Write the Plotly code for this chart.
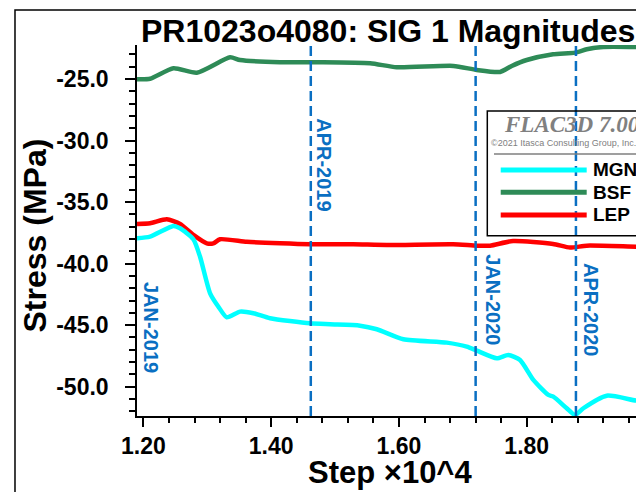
import plotly.graph_objects as go

# ---------------- data ----------------
bsf_step = [1.190, 1.2105, 1.247, 1.2836, 1.3357, 1.3513, 1.4139, 1.4609, 1.4765, 1.5548,
            1.5966, 1.6851, 1.7218, 1.7582, 1.7765, 1.8000, 1.8412, 1.8756, 1.8939, 1.9199, 1.9710, 1.99]
bsf_stress = [-25.02, -24.98, -24.13, -24.49, -23.24, -23.46, -23.64, -23.64, -23.64, -23.72,
              -24.05, -23.94, -24.27, -24.43, -23.94, -23.46, -22.99, -22.86, -22.59, -22.40, -22.40, -22.40]

lep_step = [1.190, 1.2105, 1.2366, 1.2574, 1.2782, 1.2992, 1.3095, 1.3200, 1.3618, 1.4139,
            1.4609, 1.5282, 1.5809, 1.6847, 1.7218, 1.7426, 1.7786, 1.8412, 1.8678, 1.8939, 1.9710, 1.99]
lep_stress = [-36.78, -36.72, -36.40, -36.78, -37.67, -38.35, -38.35, -38.02, -38.22, -38.35,
              -38.43, -38.43, -38.49, -38.43, -38.54, -38.54, -38.16, -38.40, -38.70, -38.54, -38.62, -38.62]

mgn_step = [1.190, 1.2105, 1.2469, 1.2574, 1.2782, 1.2887, 1.3044, 1.3174, 1.3305, 1.3513,
            1.3721, 1.3983, 1.4609, 1.4922, 1.5391, 1.5653, 1.6069, 1.6748, 1.7061, 1.7218,
            1.7531, 1.7712, 1.7895, 1.8103, 1.8338, 1.8416, 1.8626, 1.8756, 1.8886, 1.9252, 1.9710, 1.99]
mgn_stress = [-37.94, -37.81, -36.94, -37.13, -38.02, -39.44, -42.41, -43.50, -44.36, -43.90,
              -44.03, -44.44, -44.85, -44.93, -45.04, -45.33, -46.15, -46.42, -46.75, -47.07,
              -47.69, -47.42, -47.83, -49.45, -50.67, -50.81, -51.75, -52.30, -51.75, -50.73, -51.13, -51.2]

series_names = ["MGN", "BSF", "LEP"]
series_colors = ["#00FFFF", "#2E8B57", "#FF0000"]

event_labels = ["JAN-2019", "APR-2019", "JAN-2020", "APR-2020"]
event_steps = [1.190, 1.462, 1.720, 1.877]

x_tick_vals = [1.2, 1.4, 1.6, 1.8]
x_tick_text = ["1.20", "1.40", "1.60", "1.80"]
y_tick_vals = [-25, -30, -35, -40, -45, -50]
y_tick_text = ["-25.0", "-30.0", "-35.0", "-40.0", "-45.0", "-50.0"]

title_text = "PR1023o4080: SIG 1 Magnitudes"
x_title = "Step ×10^4"
y_title = "Stress (MPa)"

# ---------------- style / layout ----------------
FONT = "Arial, Liberation Sans, sans-serif"
EVENT_COLOR = "#0A6FC2"
event_label_y = [-45.15, -31.99, -42.95, -43.77]
event_label_shift = [14, 13, 17, 15]
event_draw_line = [False, True, True, True]

fig = go.Figure()
data_map = {"MGN": (mgn_step, mgn_stress), "BSF": (bsf_step, bsf_stress), "LEP": (lep_step, lep_stress)}
for name, color in zip(["BSF", "LEP", "MGN"], [series_colors[1], series_colors[2], series_colors[0]]):
    xs, ys = data_map[name]
    fig.add_trace(go.Scatter(x=xs, y=ys, mode="lines", name=name,
                             line=dict(color=color, width=4.5, shape="spline", smoothing=0.6),
                             showlegend=False))

shapes = []
annotations = []

# vertical event lines and labels
for lab, xv, yv, sh, draw in zip(event_labels, event_steps, event_label_y, event_label_shift, event_draw_line):
    if draw:
        shapes.append(dict(type="line", xref="x", yref="paper", x0=xv, x1=xv, y0=0, y1=1,
                           line=dict(color=EVENT_COLOR, width=2.5, dash="10px,5px"), layer="above"))
    annotations.append(dict(x=xv, y=yv, xref="x", yref="y", text="<b>%s</b>" % lab, showarrow=False,
                            textangle=90, xshift=sh, xanchor="center", yanchor="middle",
                            font=dict(family=FONT, size=20, color=EVENT_COLOR)))

# outer frame
shapes.append(dict(type="rect", xref="paper", yref="paper", x0=-0.2445, x1=1.2, y0=-0.4, y1=1.0943,
                   line=dict(color="black", width=1.5), layer="above"))

# legend box
shapes.append(dict(type="rect", xref="paper", yref="paper", x0=0.702, x1=1.2, y0=0.486, y1=0.822,
                   line=dict(color="black", width=1.5), layer="above"))
shapes.append(dict(type="line", xref="paper", yref="paper", x0=0.7154, x1=1.2, y0=0.7062, y1=0.7062,
                   line=dict(color="#7f7f7f", width=1.5), layer="above"))
annotations.append(dict(x=0.732, y=0.787, xref="paper", yref="paper", text="<b><i>FLAC3D 7.00</i></b>",
                        showarrow=False, xanchor="left", yanchor="middle",
                        font=dict(family="Times New Roman, Liberation Serif, serif", size=23, color="#808080")))
annotations.append(dict(x=0.706, y=0.7367, xref="paper", yref="paper",
                        text="©2021 Itasca Consulting Group, Inc.",
                        showarrow=False, xanchor="left", yanchor="middle",
                        font=dict(family=FONT, size=9, color="#808080")))
leg_y = [0.6631, 0.603, 0.5418]
for name, color, ly in zip(series_names, series_colors, leg_y):
    shapes.append(dict(type="line", xref="paper", yref="paper", x0=0.7289, x1=0.9012, y0=ly, y1=ly,
                       line=dict(color=color, width=5), layer="above"))
    annotations.append(dict(x=0.9104, y=ly, xref="paper", yref="paper", text="<b>%s</b>" % name,
                            showarrow=False, xanchor="left", yanchor="middle",
                            font=dict(family=FONT, size=19, color="black")))

# title and axis titles
annotations.append(dict(x=0.004, y=1.0377, xref="paper", yref="paper", text="<b>%s</b>" % title_text,
                        showarrow=False, xanchor="left", yanchor="middle",
                        font=dict(family=FONT, size=32, color="black")))
annotations.append(dict(x=0.507, y=-0.152, xref="paper", yref="paper", text="<b>%s</b>" % x_title,
                        showarrow=False, xanchor="center", yanchor="middle",
                        font=dict(family=FONT, size=31, color="black")))
annotations.append(dict(x=-0.2044, y=0.4865, xref="paper", yref="paper", text="<b>%s</b>" % y_title,
                        showarrow=False, xanchor="center", yanchor="middle", textangle=-90,
                        font=dict(family=FONT, size=32, color="black")))

fig.update_layout(
    width=636, height=492,
    margin=dict(l=137, r=0, t=45, b=76, pad=0),
    paper_bgcolor="white", plot_bgcolor="white",
    shapes=shapes, annotations=annotations,
    showlegend=False,
    xaxis=dict(range=[1.190, 1.971], tickvals=x_tick_vals, ticktext=x_tick_text,
               showgrid=False, zeroline=False, showline=True, linecolor="black", linewidth=1.5,
               ticks="outside", ticklen=9, tickwidth=1.5, tickcolor="black",
               tickfont=dict(family=FONT, size=23, color="black", weight="bold"),
               minor=dict(dtick=0.04, tick0=1.2, ticks="outside", ticklen=5, tickwidth=1.5, tickcolor="black", showgrid=False)),
    yaxis=dict(range=[-52.38, -22.24], tickvals=y_tick_vals, ticktext=y_tick_text,
               showgrid=False, zeroline=False, showline=True, linecolor="black", linewidth=1.5,
               ticks="outside", ticklen=10, tickwidth=1.5, tickcolor="black",
               ticklabelstandoff=12,
               tickfont=dict(family=FONT, size=23, color="black", weight="bold"),
               minor=dict(dtick=1, tick0=-25, ticks="outside", ticklen=6, tickwidth=1.5, tickcolor="black", showgrid=False)),
)

fig.write_html("out.html", config={"displayModeBar": False},
               post_script="document.body.style.margin='0';document.body.style.overflow='hidden';")
